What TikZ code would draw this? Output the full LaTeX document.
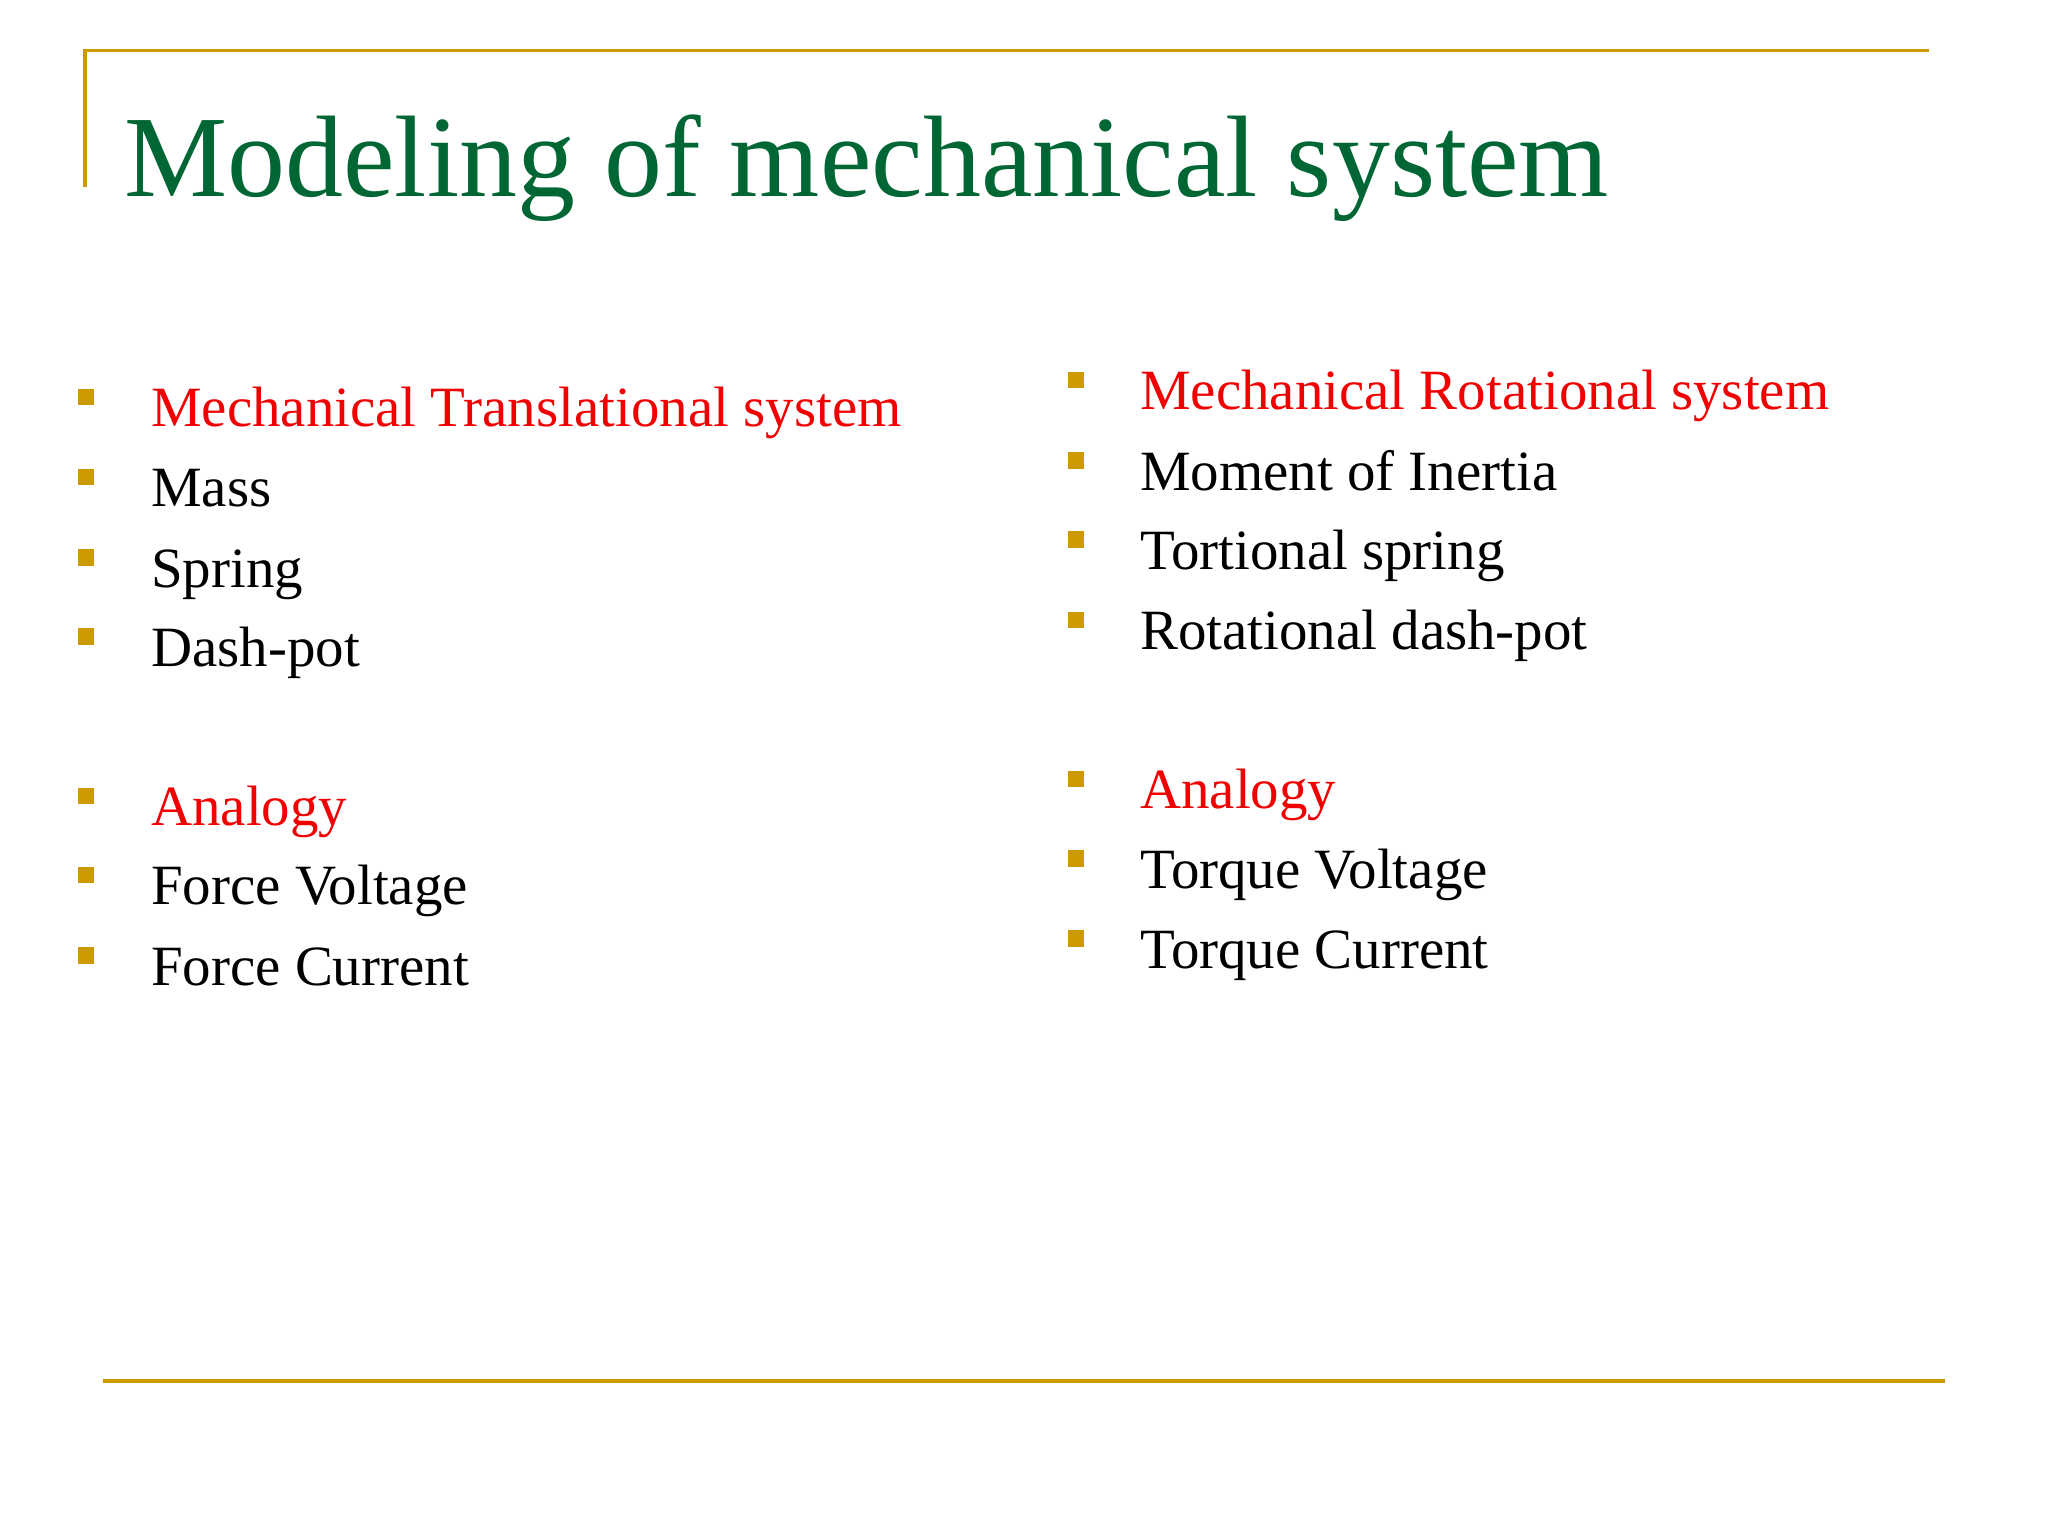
\documentclass[tikz,border=0pt]{standalone}
\usepackage{fontspec}
\setmainfont{Liberation Serif}
\definecolor{ttl}{RGB}{0,102,51}
\definecolor{gold}{RGB}{204,153,0}
\definecolor{rd}{RGB}{240,0,0}
\begin{document}
\begin{tikzpicture}[x=0.0099cm,y=-0.0099cm,
  item/.style={anchor=base west,inner sep=0pt,font=\fontsize{16.2}{20}\selectfont},
  hd/.style={item,text=rd},
  bul/.style={fill=gold,minimum size=0.165cm,inner sep=0pt,draw=none}]
\useasboundingbox (0,0) rectangle (2068.7,1551.5);
\draw[gold,line width=1.1pt] (86,189) -- (86,51) -- (1948,51);
\draw[gold,line width=1.1pt] (104,1395) -- (1965,1395);
\node[anchor=base west,inner sep=0pt,text=ttl,font=\fontsize{33}{40}\selectfont] (title) at (125,198) {Modeling of mechanical system};
\foreach \n/\y/\t/\s in {l1/431/Mechanical Translational system/hd, l2/512/Mass/item, l3/593/Spring/item, l4/673/Dash-pot/item, l5/834/Analogy/hd, l6/914/Force Voltage/item, l7/995/Force Current/item}{
  \node[\s] (\n) at (152,\y) {\t};
  \node[bul] (b\n) at (87,\y-30) {};
}
\foreach \n/\y/\t/\s in {r1/414/Mechanical Rotational system/hd, r2/495/Moment of Inertia/item, r3/575/Tortional spring/item, r4/656/Rotational dash-pot/item, r5/817/Analogy/hd, r6/897/Torque Voltage/item, r7/978/Torque Current/item}{
  \node[\s] (\n) at (1151,\y) {\t};
  \node[bul] (b\n) at (1087,\y-30) {};
}
\end{tikzpicture}
\end{document}
